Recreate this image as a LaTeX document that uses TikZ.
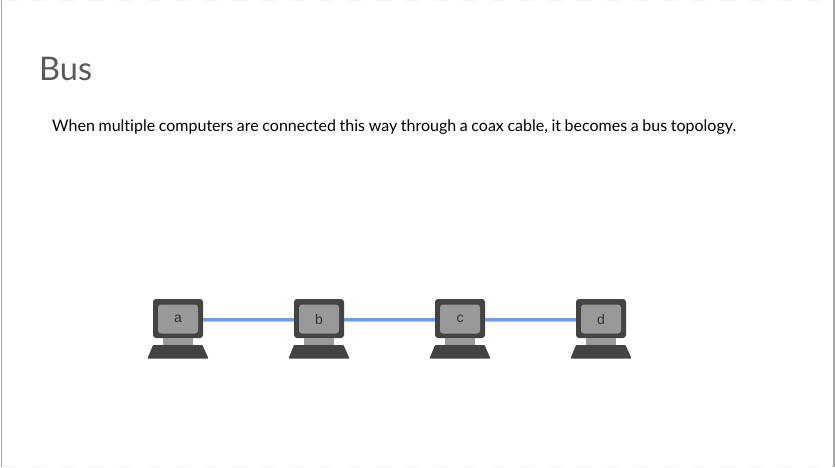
\documentclass[tikz,border=0pt]{standalone}
\usepackage{fontspec}
\setmainfont{Lato}[WordSpace=0.88,Ligatures=NoCommon]
\newfontfamily\labelfont{Liberation Sans}
\definecolor{framegray}{HTML}{A6A6A6}
\definecolor{titlegray}{HTML}{595959}
\definecolor{darkbody}{HTML}{434343}
\definecolor{screengray}{HTML}{999999}
\definecolor{cableblue}{HTML}{6D9EEB}
\definecolor{cableshadow}{HTML}{C8C8C8}
\definecolor{edgefaint}{HTML}{F6F6F6}
\tikzset{
  x=1pt,y=-1pt,
  bodybox/.style={minimum width=50pt,minimum height=39pt,inner sep=0pt,rounded corners=3pt,fill=darkbody},
  screenbox/.style={minimum width=40pt,minimum height=29pt,inner sep=0pt,rounded corners=3pt,fill=screengray,text=black!80,font=\labelfont\fontsize{14}{16}\selectfont},
  cable/.style={draw=cableblue,line width=3.2pt},
  cableback/.style={draw=cableshadow,line width=2pt},
  edgedash/.style={draw=edgefaint,line width=1pt,dash pattern=on 14.5pt off 14.2pt},
}
\newcommand{\computer}[2]{%
  \node[bodybox] (#2body) at (#1,318.5) {};
  \fill[screengray] (#1-15,338) rectangle (#1+15,345);
  \fill[darkbody,rounded corners=0.8pt] (#1-25,345) -- (#1+24.5,345) -- (#1+30.5,358.5) -- (#1-30.5,358.5) -- cycle;
  \node[screenbox] (#2) at (#1,319) {#2};
}
\begin{document}
\begin{tikzpicture}
\useasboundingbox (0,0) rectangle (835,467);
\fill[white] (0,0) rectangle (835,467);
\coordinate (bl) at (3,466.5);
\coordinate (br) at (835,466.5);
\coordinate (tl) at (3,0.5);
\coordinate (tr) at (835,0.5);
\draw[edgedash] (bl) -- (br);
\draw[edgedash] (tl) -- (tr);
\fill[framegray] (0.5,0) rectangle (1.8,467);
\fill[framegray] (833.2,0) rectangle (834.5,467);
\computer{178}{a}
\computer{319}{b}
\computer{460}{c}
\computer{601}{d}
\foreach \p/\q in {a/b,b/c,c/d}{
  \draw[cableback] ([yshift=-2.2pt]\p body.east) -- ([yshift=-2.2pt]\q body.west);
  \draw[cable] ([yshift=-1pt]\p body.east) -- ([yshift=-1pt]\q body.west);
}
\node[anchor=base west,inner sep=0pt,text=titlegray,font=\fontsize{32.5}{38}\selectfont] (title) at (39,80) {Bus};
\node[anchor=base west,inner sep=0pt,text=black,font=\fontsize{16}{20}\selectfont] (body) at (52,131) {When multiple computers are connected this way through a coax cable, it becomes a bus topology.};
\end{tikzpicture}
\end{document}
